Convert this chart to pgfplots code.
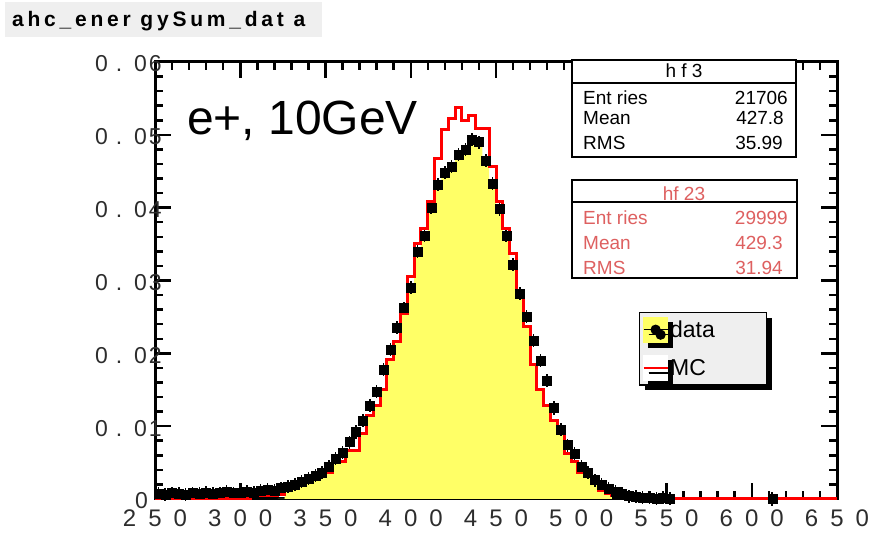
\documentclass[border=0pt]{standalone}
\usepackage{fontspec}
\setmainfont{Liberation Sans}
\usepackage{pgfplots}
\usepackage{pgfplotstable}
\pgfplotsset{compat=1.18}
\usetikzlibrary{shadows}
\definecolor{yfill}{RGB}{255,255,102}
\definecolor{statred}{RGB}{222,96,96}
\definecolor{titlebg}{RGB}{239,239,239}
\definecolor{ticklab}{RGB}{45,45,45}
\newcommand\gs{\hspace{12pt}}
\newcommand\yl[1]{0\hspace{8pt}.\hspace{12pt}0\hspace{2pt}#1}
\newcommand\fsa{\fontsize{19}{19}\selectfont}

% MC histogram: left bin edge, content (bin width 4)
\pgfplotstableread{
x y
250 0
302 0
306 0.0005
310 0.0005
314 0.0005
318 0.0005
322 0.0006
326 0.0012
330 0.0019
334 0.0019
338 0.0026
342 0.0029
346 0.0035
350 0.0036
354 0.0051
358 0.0052
362 0.0067
366 0.0067
370 0.0090
374 0.0115
378 0.0129
382 0.0150
386 0.0191
390 0.0216
394 0.0255
398 0.0305
402 0.0351
406 0.0372
410 0.0408
414 0.0468
418 0.0507
422 0.0523
426 0.0537
430 0.0520
434 0.0526
438 0.0509
442 0.0509
446 0.0456
450 0.0408
454 0.0372
458 0.0337
462 0.0280
466 0.0237
470 0.0185
474 0.0150
478 0.0129
482 0.0108
486 0.0090
490 0.0063
494 0.0051
498 0.0037
502 0.0031
506 0.0022
510 0.0012
514 0.0008
518 0.0005
522 0.0005
526 0
650 0
}\mctable

% filled (yellow) histogram: left bin edge, content
\pgfplotstableread{
x y
322 0
326 0.0012
330 0.0019
334 0.0019
338 0.0026
342 0.0029
346 0.0035
350 0.0036
354 0.0051
358 0.0052
362 0.0067
366 0.0067
370 0.0090
374 0.0115
378 0.0129
382 0.0150
386 0.0191
390 0.0216
394 0.0255
398 0.0290
402 0.0340
406 0.0362
410 0.0400
414 0.0432
418 0.0448
422 0.0456
426 0.0473
430 0.0480
434 0.0493
438 0.0490
442 0.0465
446 0.0433
450 0.0398
454 0.0362
458 0.0322
462 0.0280
466 0.0237
470 0.0185
474 0.0150
478 0.0129
482 0.0108
486 0.0090
490 0.0063
494 0.0051
498 0.0037
502 0.0031
506 0.0022
510 0.0012
514 0.0008
518 0
}\filltable

% data points: bin centre, content
\pgfplotstableread{
x y
252 0.0007
256 0.0006
260 0.0008
264 0.0007
268 0.0006
272 0.0008
276 0.0007
280 0.0009
284 0.0007
288 0.0008
292 0.0010
296 0.0008
300 0.0009
304 0.0010
308 0.0009
312 0.0011
316 0.0013
320 0.0012
324 0.0015
328 0.0017
332 0.0020
336 0.0024
340 0.0028
344 0.0032
348 0.0036
352 0.0045
356 0.0056
360 0.0064
364 0.0078
368 0.0092
372 0.0108
376 0.0128
380 0.0148
384 0.0178
388 0.0205
392 0.0235
396 0.0262
400 0.0290
404 0.0340
408 0.0362
412 0.0400
416 0.0432
420 0.0448
424 0.0456
428 0.0473
432 0.0480
436 0.0493
440 0.0490
444 0.0465
448 0.0433
452 0.0398
456 0.0362
460 0.0322
464 0.0282
468 0.0250
472 0.0218
476 0.0190
480 0.0163
484 0.0125
488 0.0095
492 0.0074
496 0.0062
500 0.0045
504 0.0036
508 0.0026
512 0.0020
516 0.0014
520 0.0010
524 0.0007
528 0.0004
532 0.0003
536 0.0002
540 0.0002
544 0.0001
548 0.0002
552 0.0001
612 0.0000
}\datatable

\begin{document}
\begin{tikzpicture}
\path[use as bounding box] (-155pt,-35pt) rectangle (727pt,499pt);
% title box
\fill[titlebg] (-150pt,462pt) rectangle (167pt,497pt);
\node[anchor=base west, inner sep=0pt, font=\fontsize{21}{21}\selectfont\bfseries\addfontfeature{LetterSpace=18}] at (-143pt,472pt) {ahc\_ener gySum\_dat a};
\begin{axis}[
  at={(0pt,0pt)}, anchor=south west,
  scale only axis, width=682pt, height=437pt,
  xmin=250, xmax=650, ymin=0, ymax=0.06,
  clip=false,
  xtick={250,300,350,400,450,500,550,600,650},
  xticklabels={2\gs5\gs0,3\gs0\gs0,3\gs5\gs0,4\gs0\gs0,4\gs5\gs0,5\gs0\gs0,5\gs5\gs0,6\gs0\gs0,6\gs5\gs0},
  ytick={0,0.01,0.02,0.03,0.04,0.05,0.06},
  yticklabels={0\rule{14pt}{0pt},\yl1,\yl2,\yl3,\yl4,\yl5,\yl6},
  minor x tick num=4, minor y tick num=4,
  tick align=inside, tick pos=both,
  major tick length=16pt, minor tick length=8pt,
  every tick/.style={black, line width=2.5pt},
  axis line style={line width=3pt},
  xticklabel style={font=\fontsize{24}{24}\selectfont, text=ticklab, anchor=north, inner sep=0pt, yshift=-11pt},
  yticklabel style={font=\fontsize{23}{23}\selectfont, text=ticklab, anchor=east, inner sep=0pt, xshift=7pt, yshift=-2pt},
  scaled y ticks=false,
  legend style={at={(rel axis cs:0.7097,0.4279)}, anchor=north west,
    fill=titlebg, draw=black, line width=1.2pt,
    font=\fontsize{23}{23}\selectfont,
    inner xsep=3pt, inner ysep=4pt, row sep=12pt,
    nodes={inner sep=1.5pt},
    drop shadow={shadow xshift=5pt, shadow yshift=-5pt, fill=black, opacity=1}},
  legend cell align=left,
]
\addplot[const plot, fill=yfill, draw=none, forget plot] table[x=x,y=y] {\filltable} \closedcycle;
\addplot[only marks, mark=square*, mark size=4.5pt, black, forget plot,
  error bars/.cd, x dir=both, x fixed=2, y dir=both, y fixed=0.0009,
  error bar style={line width=1.5pt, black}, error mark=none]
  table[x=x,y=y] {\datatable};
\addplot[const plot, red, line width=3pt, forget plot] table[x=x,y=y] {\mctable};
\addlegendimage{legend image code/.code={
  \fill[yfill] (0pt,-12.5pt) rectangle (24pt,12.5pt);
  \draw[black,line width=1.5pt] (0pt,0pt)--(24pt,0pt);
  \fill[black] (12pt,0pt) circle (4.5pt);}}
\addlegendentry{\makebox[92pt][l]{data}}
\addlegendimage{legend image code/.code={
  \fill[white] (0pt,-12.5pt) rectangle (24pt,12.5pt);
  \draw[red,line width=2pt] (0pt,0pt)--(24pt,0pt);}}
\addlegendentry{\makebox[92pt][l]{MC}}
\end{axis}
% energy label
\node[anchor=base west, inner sep=0pt, font=\fontsize{48}{48}\selectfont] at (32pt,364pt) {e+, 10GeV};
% stats box 1
\draw[line width=2.8pt, fill=white] (417pt,342pt) rectangle (641pt,439pt);
\draw[line width=2.8pt] (417pt,416pt) -- (641pt,416pt);
\node[anchor=base, inner sep=0pt, font=\fsa] at (529pt,421pt) {h f 3};
\node[anchor=base west, inner sep=0pt, font=\fsa] at (428pt,394pt) {Ent ries};
\node[anchor=base west, inner sep=0pt, font=\fsa] at (428pt,374pt) {Mean};
\node[anchor=base west, inner sep=0pt, font=\fsa] at (428pt,349pt) {RMS};
\node[anchor=base east, inner sep=0pt, font=\fsa] at (633pt,394pt) {21706};
\node[anchor=base east, inner sep=0pt, font=\fsa] at (629pt,374pt) {427.8};
\node[anchor=base east, inner sep=0pt, font=\fsa] at (628pt,349pt) {35.99};
% stats box 2
\draw[line width=2.8pt, fill=white] (417pt,221pt) rectangle (642pt,319pt);
\node[anchor=base, inner sep=0pt, font=\fsa, text=statred] at (529pt,298pt) {hf 23};
\draw[line width=2.8pt] (417pt,297pt) -- (642pt,297pt);
\node[anchor=base west, inner sep=0pt, font=\fsa, text=statred] at (428pt,274pt) {Ent ries};
\node[anchor=base west, inner sep=0pt, font=\fsa, text=statred] at (428pt,249pt) {Mean};
\node[anchor=base west, inner sep=0pt, font=\fsa, text=statred] at (428pt,224pt) {RMS};
\node[anchor=base east, inner sep=0pt, font=\fsa, text=statred] at (633pt,274pt) {29999};
\node[anchor=base east, inner sep=0pt, font=\fsa, text=statred] at (628pt,249pt) {429.3};
\node[anchor=base east, inner sep=0pt, font=\fsa, text=statred] at (628pt,224pt) {31.94};
\end{tikzpicture}
\end{document}
